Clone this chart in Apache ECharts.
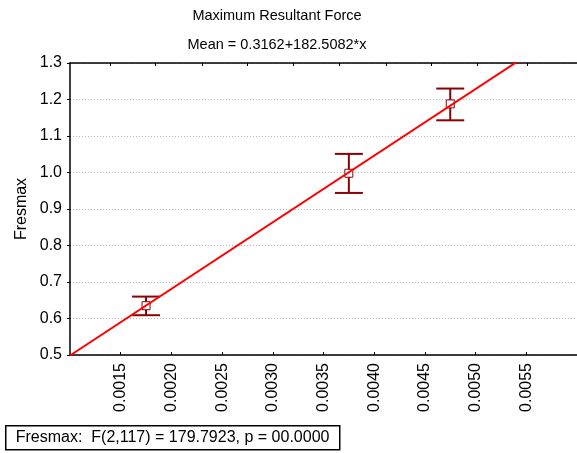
<!DOCTYPE html>
<html>
<head>
<meta charset="utf-8">
<script src="https://cdn.jsdelivr.net/npm/echarts@6/dist/echarts.min.js"></script>
<style>
  html, body { margin: 0; padding: 0; background: #fff; }
  #chart { width: 577px; height: 453px; }
</style>
</head>
<body>
<div id="chart"></div>
<script>
// group means with error bars (x, lower, upper, mean)
var groupX = [0.00175, 0.00375, 0.00475];
var groupMean = [0.635, 0.998, 1.188];
var groupLow = [0.609, 0.944, 1.143];
var groupHigh = [0.660, 1.051, 1.230];

// fitted line endpoints: Mean = 0.3162 + 182.5082*x
var fitX = [0.0010, 0.0060];
var fitY = [0.4987, 1.4113];

var titleText = 'Maximum Resultant Force';
var subText = 'Mean = 0.3162+182.5082*x';
var statText = 'Fresmax:  F(2,117) = 179.7923, p = 00.0000';

var font = '"Liberation Sans", Arial, sans-serif';
var barColor = '#8b0000';

var errData = groupX.map(function (x, i) {
  return [x, groupLow[i], groupHigh[i], groupMean[i]];
});
var fitData = fitX.map(function (x, i) { return [x, fitY[i]]; });

var chart = echarts.init(document.getElementById('chart'));
chart.setOption({
  animation: false,
  backgroundColor: '#fff',
  textStyle: { fontFamily: font },
  title: [
    { text: titleText, left: 272, top: 3, textAlign: 'center',
      textStyle: { fontSize: 14.5, fontWeight: 'normal', color: '#000', fontFamily: font } },
    { text: subText, left: 272, top: 32, textAlign: 'center',
      textStyle: { fontSize: 14.5, fontWeight: 'normal', color: '#000', fontFamily: font } }
  ],
  grid: { left: 70, top: 63, width: 509, height: 292 },
  xAxis: [{
    type: 'value',
    min: 0.0010, max: 0.0060, interval: 0.0005,
    axisLine: { show: true, lineStyle: { color: '#000', width: 1.5 } },
    axisTick: { show: true, inside: true, length: 3, lineStyle: { color: '#000' } },
    axisLabel: {
      rotate: 90, margin: 8, fontSize: 16, color: '#000', fontFamily: font,
      showMinLabel: false, showMaxLabel: false,
      formatter: function (v) { return v.toFixed(4); }
    },
    splitLine: { show: false }
  }, {
    type: 'value', position: 'top',
    min: 0, max: 509,
    axisLine: { show: true, onZero: false, lineStyle: { color: '#000', width: 1.5 } },
    axisTick: { show: true, inside: true, length: 3, lineStyle: { color: '#000' },
      customValues: [40, 86, 133, 178, 224, 270, 317, 363, 409, 459] },
    axisLabel: { show: false },
    splitLine: { show: false }
  }],
  yAxis: {
    type: 'value',
    min: 0.5, max: 1.3, interval: 0.1,
    name: 'Fresmax', nameLocation: 'middle', nameGap: 40, nameMoveOverlap: false,
    nameTextStyle: { fontSize: 16, color: '#000', fontFamily: font },
    axisLine: { show: true, lineStyle: { color: '#000', width: 1.5 } },
    axisTick: { show: true, length: 3, lineStyle: { color: '#000' } },
    axisLabel: {
      margin: 8, fontSize: 16, color: '#000', fontFamily: font,
      formatter: function (v) { return v.toFixed(1); }
    },
    splitLine: { show: true, lineStyle: { color: '#bbb', type: [1, 2], width: 1 } }
  },
  series: [{
    type: 'custom',
    xAxisIndex: 0,
    data: errData,
    z: 2,
    renderItem: function (params, api) {
      var lo = api.coord([api.value(0), api.value(1)]);
      var hi = api.coord([api.value(0), api.value(2)]);
      var mid = api.coord([api.value(0), api.value(3)]);
      var hw = 14, bs = 4;
      var st = { stroke: barColor, lineWidth: 2, fill: null };
      return {
        type: 'group',
        children: [
          { type: 'line', shape: { x1: hi[0], y1: hi[1], x2: lo[0], y2: lo[1] }, style: st },
          { type: 'line', shape: { x1: hi[0] - hw, y1: hi[1], x2: hi[0] + hw, y2: hi[1] }, style: st },
          { type: 'line', shape: { x1: lo[0] - hw, y1: lo[1], x2: lo[0] + hw, y2: lo[1] }, style: st },
          { type: 'rect', shape: { x: mid[0] - bs, y: mid[1] - bs, width: bs * 2, height: bs * 2 },
            style: { fill: '#fff', stroke: barColor, lineWidth: 1 } }
        ]
      };
    }
  }, {
    type: 'line',
    xAxisIndex: 0,
    data: fitData,
    clip: true,
    z: 3,
    symbol: 'none',
    lineStyle: { color: '#ff0000', width: 2 }
  }],
  graphic: [{
    type: 'group',
    left: 5, top: 425,
    children: [
      { type: 'rect', shape: { x: 0, y: 0, width: 334, height: 24 },
        style: { fill: '#fff', stroke: '#000', lineWidth: 1.5 } },
      { type: 'text', x: 10, y: 12,
        style: { text: statText, fontSize: 16, fontFamily: font, fill: '#000', textVerticalAlign: 'middle' } }
    ]
  }]
});
</script>
</body>
</html>
